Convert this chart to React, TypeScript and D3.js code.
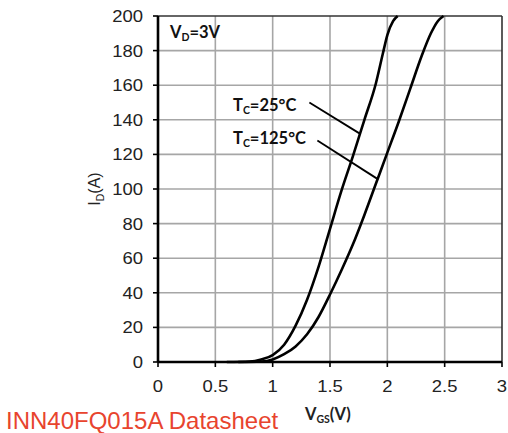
import * as d3 from "d3";

// V_GS (V) and I_D (A)
const vgs25 = [0.6, 0.8, 0.9, 1.0, 1.1, 1.2, 1.3, 1.4, 1.5, 1.6, 1.7, 1.8, 1.9, 1.96, 2.0, 2.05, 2.09];
const id25 = [0, 0.3, 1.5, 4, 10, 21, 36, 55, 77, 99, 119, 140, 161, 178, 189, 197, 200];

const vgs125 = [0.7, 0.9, 1.0, 1.1, 1.2, 1.3, 1.4, 1.5, 1.6, 1.7, 1.8, 1.9, 2.0, 2.1, 2.2, 2.3, 2.38, 2.44, 2.49];
const id125 = [0, 0.3, 1.5, 4.5, 9, 16, 26, 39, 53, 68, 85, 103, 121, 139, 158, 177, 190, 197, 200];

const xTicks = [0, 0.5, 1, 1.5, 2, 2.5, 3];
const yTicks = [0, 20, 40, 60, 80, 100, 120, 140, 160, 180, 200];

// leader lines for the labels: [fromV, fromI, toV, toI]
const leader25 = [1.32, 150, 1.76, 132];
const leader125 = [1.39, 128, 1.91, 106];

const width = 508;
const height = 433;
const marginLeft = 158;
const marginRight = 6;
const marginTop = 16;
const marginBottom = 71;

export default function App() {
  const x = d3.scaleLinear().domain([0, 3]).range([marginLeft, width - marginRight]);
  const y = d3.scaleLinear().domain([0, 200]).range([height - marginBottom, marginTop]);

  const line = d3.line<[number, number]>()
    .x(d => x(d[0]))
    .y(d => y(d[1]))
    .curve(d3.curveMonotoneX);

  const pts25 = vgs25.map((v, i) => [v, id25[i]] as [number, number]);
  const pts125 = vgs125.map((v, i) => [v, id125[i]] as [number, number]);

  const x0 = x(0), x1 = x(3), y0 = y(0), y1 = y(200);
  const tickFont = "'Liberation Sans', Arial, sans-serif";
  const labelFont = "Lato, 'Open Sans', sans-serif";

  return (
    <svg width={width} height={height} style={{ position: "absolute", left: 0, top: 0, background: "#fff" }}>
      {/* grid */}
      <g stroke="#a6a6a6" strokeWidth={1.6}>
        {xTicks.slice(1, -1).map(t => (
          <line key={"gx" + t} x1={x(t)} x2={x(t)} y1={y1} y2={y0} />
        ))}
        {yTicks.slice(1, -1).map(t => (
          <line key={"gy" + t} x1={x0} x2={x1} y1={y(t)} y2={y(t)} />
        ))}
      </g>

      {/* top/right frame */}
      <line x1={x0} x2={x1} y1={y1} y2={y1} stroke="#333" strokeWidth={1.6} />
      <line x1={x1} x2={x1} y1={y1} y2={y0} stroke="#333" strokeWidth={1.6} />

      {/* curves */}
      <path d={line(pts25) ?? ""} fill="none" stroke="#000" strokeWidth={2.6} />
      <path d={line(pts125) ?? ""} fill="none" stroke="#000" strokeWidth={2.6} />

      {/* axes */}
      <line x1={x0} x2={x0} y1={y1} y2={y0} stroke="#000" strokeWidth={2.6} />
      <line x1={x0} x2={x1} y1={y0} y2={y0} stroke="#000" strokeWidth={2.6} />
      <g stroke="#000" strokeWidth={1.6}>
        {yTicks.map(t => (
          <line key={"ty" + t} x1={x0 - 5} x2={x0} y1={y(t)} y2={y(t)} />
        ))}
        {xTicks.map(t => (
          <line key={"tx" + t} x1={x(t)} x2={x(t)} y1={y0} y2={y0 + 5} />
        ))}
      </g>

      {/* tick labels (the scan is a bit stretched horizontally) */}
      <g fontFamily={tickFont} fontSize={16.5} fill="#222">
        {yTicks.map(t => (
          <text key={"ly" + t} transform={`translate(${x0 - 15},${y(t)}) scale(1.12,1)`} dy="0.36em" textAnchor="end">{t}</text>
        ))}
        {xTicks.map(t => (
          <text key={"lx" + t} transform={`translate(${x(t)},${y0 + 24}) scale(1.12,1)`} dy="0.36em" textAnchor="middle">{t}</text>
        ))}
      </g>

      {/* axis titles */}
      <text transform={`translate(100,${(y0 + y1) / 2}) rotate(-90)`} textAnchor="middle"
        fontFamily={tickFont} fontSize={16} fill="#222">
        I<tspan fontSize={10.5} dy={4}>D</tspan><tspan dy={-4}>(A)</tspan>
      </text>
      <text x={305} y={420} fontFamily={labelFont} fontWeight={700} fontSize={16.5} fill="#222">
        V<tspan fontSize={10.5} dy={3}>GS</tspan><tspan dy={-3}>(V)</tspan>
      </text>

      {/* annotations */}
      <text x={170} y={38} fontFamily={labelFont} fontWeight={700} fontSize={16.5} fill="#111">
        V<tspan fontSize={10.5} dy={3}>D</tspan><tspan dy={-3}>=3V</tspan>
      </text>
      <text x={233} y={111} fontFamily={labelFont} fontWeight={700} fontSize={16.5} fill="#111">
        T<tspan fontSize={10.5} dy={3}>C</tspan><tspan dy={-3}>=25°C</tspan>
      </text>
      <text x={233} y={144} fontFamily={labelFont} fontWeight={700} fontSize={16.5} fill="#111">
        T<tspan fontSize={10.5} dy={3}>C</tspan><tspan dy={-3}>=125°C</tspan>
      </text>
      <line x1={x(leader25[0])} y1={y(leader25[1])} x2={x(leader25[2])} y2={y(leader25[3])}
        stroke="#000" strokeWidth={1.8} />
      <line x1={x(leader125[0])} y1={y(leader125[1])} x2={x(leader125[2])} y2={y(leader125[3])}
        stroke="#000" strokeWidth={1.8} />

      {/* source caption */}
      <text x={6} y={429} fontFamily={tickFont} fontSize={24} fill="#e8442e">INN40FQ015A Datasheet</text>
    </svg>
  );
}
